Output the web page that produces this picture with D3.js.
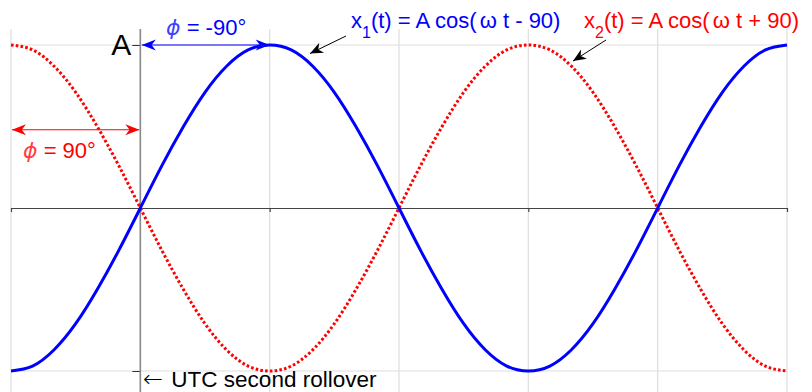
<!DOCTYPE html>
<html>
<head>
<meta charset="utf-8">
<script src="https://cdn.jsdelivr.net/npm/d3@7/dist/d3.min.js"></script>
<style>
  html, body { margin: 0; padding: 0; background: #fff; }
  svg { display: block; font-family: "Liberation Sans", Arial, Helvetica, sans-serif; }
</style>
</head>
<body>
<svg id="chart" width="812" height="392"></svg>
<script>
// Phase angle samples (degrees)
const angles = [-90, -75, -60, -45, -30, -15, 0, 15, 30, 45, 60, 75, 90, 105, 120, 135, 150, 165,
                180, 195, 210, 225, 240, 255, 270, 285, 300, 315, 330, 345, 360, 375, 390, 405, 420, 435, 450];
// x1(t) = A cos(ωt - 90), in units of A
const x1Values = [-1, -0.97, -0.87, -0.71, -0.5, -0.26, 0, 0.26, 0.5, 0.71, 0.87, 0.97, 1, 0.97, 0.87, 0.71, 0.5, 0.26,
                  0, -0.26, -0.5, -0.71, -0.87, -0.97, -1, -0.97, -0.87, -0.71, -0.5, -0.26, 0, 0.26, 0.5, 0.71, 0.87, 0.97, 1];
// x2(t) = A cos(ωt + 90), in units of A
const x2Values = [1, 0.97, 0.87, 0.71, 0.5, 0.26, 0, -0.26, -0.5, -0.71, -0.87, -0.97, -1, -0.97, -0.87, -0.71, -0.5, -0.26,
                  0, 0.26, 0.5, 0.71, 0.87, 0.97, 1, 0.97, 0.87, 0.71, 0.5, 0.26, 0, -0.26, -0.5, -0.71, -0.87, -0.97, -1];
// Grid / tick positions
const xTicks = [-90, 0, 90, 180, 270, 360, 450];
const yTicks = [-1, 1];
const yTickLabels = ["", "A"];
// Phase-shift markers
const phase1 = { label: "-90°", from: 0, to: 90, level: 1 };
const phase2 = { label: "90°", from: -90, to: 0, level: 0.48 };

const svg = d3.select("#chart");
const x = d3.scaleLinear().domain([-90, 450]).range([11, 787]);
const y = d3.scaleLinear().domain([-1, 1]).range([371, 45]);

const BLUE = "#0000ff", RED = "#ff0000";

// Arrowhead markers
const defs = svg.append("defs");
function marker(id, color, len, half) {
  defs.append("marker")
    .attr("id", id)
    .attr("markerUnits", "userSpaceOnUse")
    .attr("viewBox", `${-len - 1} ${-half - 1} ${len + 2} ${2 * half + 2}`)
    .attr("markerWidth", len + 2).attr("markerHeight", 2 * half + 2)
    .attr("refX", 0).attr("refY", 0)
    .attr("orient", "auto-start-reverse")
    .append("path")
    .attr("d", `M0,0 L${-len},${-half} L${-len * 0.7},0 L${-len},${half} Z`)
    .attr("fill", color);
}
marker("arrBlue", BLUE, 14, 5.5);
marker("arrRed", RED, 14, 5.5);
marker("arrBlack", "#000", 13, 5.5);

// Grid
const grid = svg.append("g");
grid.selectAll("line.v").data(xTicks).join("line")
  .attr("x1", d => x(d)).attr("x2", d => x(d))
  .attr("y1", 29).attr("y2", 392)
  .attr("stroke", "#dedede").attr("stroke-width", 1.2);
grid.selectAll("line.h").data(yTicks).join("line")
  .attr("x1", x(-90)).attr("x2", x(450))
  .attr("y1", d => y(d)).attr("y2", d => y(d))
  .attr("stroke", "#dedede").attr("stroke-width", 1.2);

// Horizontal axis through zero
const xAxis = svg.append("g")
  .attr("transform", `translate(0,${y(0)})`)
  .call(d3.axisBottom(x).tickValues(xTicks).tickSize(4).tickSizeOuter(0).tickFormat(""));
xAxis.select(".domain").attr("stroke", "#444").attr("stroke-width", 1.2);
xAxis.selectAll(".tick line").attr("stroke", "#444").attr("stroke-width", 1.2);

// Vertical axis at t = 0
const yAxis = svg.append("g")
  .attr("transform", `translate(${x(0)},0)`)
  .call(d3.axisLeft(y).tickValues(yTicks).tickSize(8).tickSizeOuter(0).tickPadding(1)
    .tickFormat((d, i) => yTickLabels[i]));
yAxis.select(".domain").remove();
yAxis.append("line")
  .attr("x1", 0).attr("x2", 0).attr("y1", 29).attr("y2", 392)
  .attr("stroke", "#8a8a8a").attr("stroke-width", 1.6);
yAxis.selectAll(".tick line").attr("stroke", "#333").attr("stroke-width", 1);
yAxis.selectAll(".tick text")
  .attr("font-size", 30).attr("fill", "#000")
  .attr("font-family", "'Liberation Sans', Arial, sans-serif");

// Curves
const line = d3.line().x(d => x(d[0])).y(d => y(d[1])).curve(d3.curveNatural);
svg.append("path")
  .datum(angles.map((a, i) => [a, x2Values[i]]))
  .attr("d", line).attr("fill", "none")
  .attr("stroke", RED).attr("stroke-width", 3).attr("stroke-dasharray", "2.6,2.2");
svg.append("path")
  .datum(angles.map((a, i) => [a, x1Values[i]]))
  .attr("d", line).attr("fill", "none")
  .attr("stroke", BLUE).attr("stroke-width", 3);

// Phase shift arrows
svg.append("line")
  .attr("x1", x(phase1.from) + 1.5).attr("x2", x(phase1.to))
  .attr("y1", y(phase1.level)).attr("y2", y(phase1.level))
  .attr("stroke", BLUE).attr("stroke-width", 1.2)
  .attr("marker-start", "url(#arrBlue)").attr("marker-end", "url(#arrBlue)");
svg.append("line")
  .attr("x1", x(phase2.from) + 1).attr("x2", x(phase2.to) - 1)
  .attr("y1", y(phase2.level)).attr("y2", y(phase2.level))
  .attr("stroke", RED).attr("stroke-width", 1.2)
  .attr("marker-start", "url(#arrRed)").attr("marker-end", "url(#arrRed)");

function phaseLabel(x0, by, color, value) {
  const t = svg.append("text")
    .attr("x", x0).attr("y", by)
    .attr("font-size", 22).attr("fill", color);
  t.append("tspan").text("ϕ").attr("font-style", "italic")
    .attr("font-family", "'DejaVu Sans', sans-serif").attr("font-weight", 200).attr("opacity", 0.75);
  t.append("tspan").text(" = " + value);
}
phaseLabel(166, 35, BLUE, phase1.label);
phaseLabel(23, 158, RED, phase2.label);

// Equation labels
function equation(x0, color, idx, rest) {
  const t = svg.append("text")
    .attr("x", x0).attr("y", 28)
    .attr("font-size", 22).attr("fill", color);
  t.append("tspan").text("x");
  t.append("tspan").text(idx).attr("font-size", 16).attr("dy", 10);
  t.append("tspan").text("(t) = A cos(").attr("dy", -10);
  t.append("tspan").text("ω").attr("font-weight", 300).attr("dx", 3);
  t.append("tspan").text(rest);
}
equation(351, BLUE, "1", " t - 90)");
equation(584, RED, "2", " t + 90)");

// Pointer arrows to the curves
svg.append("line")
  .attr("x1", 346).attr("y1", 36).attr("x2", 310).attr("y2", 53.5)
  .attr("stroke", "#000").attr("stroke-width", 1)
  .attr("marker-end", "url(#arrBlack)");
svg.append("line")
  .attr("x1", 606).attr("y1", 40).attr("x2", 573).attr("y2", 61)
  .attr("stroke", "#000").attr("stroke-width", 1)
  .attr("marker-end", "url(#arrBlack)");

// Rollover note
const note = svg.append("text")
  .attr("x", 143).attr("y", 387)
  .attr("font-size", 22.5).attr("fill", "#000");
note.append("tspan").text("←").attr("font-family", "'DejaVu Sans', sans-serif").attr("font-weight", 200)
  .attr("font-size", 24);
note.append("tspan").text(" UTC second rollover").attr("dx", 2);
</script>
</body>
</html>
